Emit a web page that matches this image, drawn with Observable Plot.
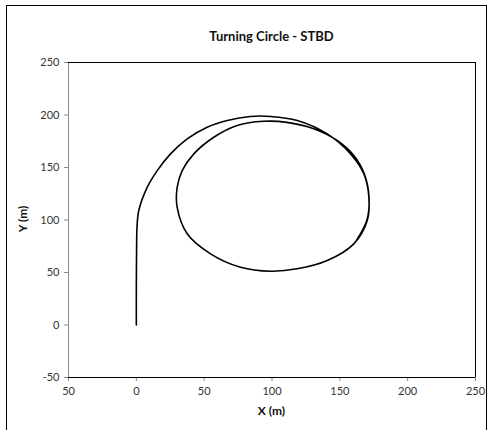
<!DOCTYPE html>
<html>
<head>
<meta charset="utf-8">
<script src="https://cdn.jsdelivr.net/npm/d3@7"></script>
<script src="https://cdn.jsdelivr.net/npm/@observablehq/plot@0.6"></script>
<style>
  html, body { margin: 0; padding: 0; background: #fff; }
  #wrap { position: relative; width: 491px; height: 430px; overflow: hidden; font-family: Lato, "Open Sans", sans-serif; }
  #border { position: absolute; left: 6px; top: 5px; width: 481px; height: 440px; border: 1px solid #000; box-sizing: border-box; }
  #title { position: absolute; left: 68px; width: 407px; top: 28px; text-align: center; font-size: 13px; font-weight: bold; color: #111; }
  #chart { position: absolute; left: 0; top: 50px; }
  #xlab { position: absolute; left: 68px; width: 407px; top: 403px; text-align: center; font-size: 12px; font-weight: bold; color: #111; }
  #ylab { position: absolute; left: 22px; top: 219px; transform: translate(-50%, -50%) rotate(-90deg); font-size: 12px; font-weight: bold; color: #111; white-space: nowrap; }
</style>
</head>
<body>
<div id="wrap">
  <div id="border"></div>
  <div id="title">Turning Circle - STBD</div>
  <div id="chart"></div>
  <div id="xlab">X (m)</div>
  <div id="ylab">Y (m)</div>
</div>
<script>
const xTicks = [-50, 0, 50, 100, 150, 200, 250];
const xTickLabels = ["50", "0", "50", "100", "150", "200", "250"];
const yTicks = [-50, 0, 50, 100, 150, 200, 250];
const yTickLabels = ["-50", "0", "50", "100", "150", "200", "250"];

// Trajectory (X, Y in metres)
const pathX = [0, 0, 0.2, 0.5, 1.8, 8, 15.4, 25.2, 37.5, 52.2, 67, 84, 98.9, 118.6, 140.7, 157.9, 167.7, 171.4, 170.2, 160.3, 140.7, 118.6, 98.9, 76.8, 54.7, 37.5, 30.1, 30.1, 33.8, 42.4, 57.1, 74.3, 93.9, 111, 130.8, 148, 160.3, 168, 171.5, 170, 162];
const pathY = [0, 35, 75, 93, 109, 131, 147, 163, 177.3, 188.4, 194.8, 198.6, 198.6, 194.8, 182, 163, 144, 121.7, 99.5, 77.3, 61.4, 53.5, 51.2, 55, 67.8, 86.9, 112, 131, 147, 163, 178.8, 190, 194, 193, 186.9, 175.7, 161.4, 144, 122, 100, 80];

const data = pathX.map((x, i) => ({x, y: pathY[i]}));

const chart = Plot.plot({
  width: 491,
  height: 380,
  marginLeft: 68,
  marginRight: 16,
  marginTop: 12,
  marginBottom: 53,
  style: { fontFamily: "Lato, 'Open Sans', sans-serif", fontSize: "11px", color: "#333", background: "transparent" },
  x: { domain: [-50, 250] },
  y: { domain: [-50, 250] },
  marks: [
    Plot.axisX({ ticks: xTicks, tickFormat: (d) => xTickLabels[xTicks.indexOf(d)], tickSize: 4, tickPadding: 6, stroke: "#888", fill: "#333", label: null }),
    Plot.axisY({ ticks: yTicks, tickFormat: (d) => yTickLabels[yTicks.indexOf(d)], tickSize: 4, tickPadding: 5, stroke: "#888", fill: "#333", label: null }),
    Plot.ruleX([-50], { stroke: "#888" }),
    Plot.ruleX([250], { stroke: "#000" }),
    Plot.ruleY([-50], { stroke: "#000" }),
    Plot.ruleY([250], { stroke: "#000" }),
    Plot.line(data, { x: "x", y: "y", stroke: "#000", strokeWidth: 1.6, curve: "catmull-rom" })
  ]
});
document.getElementById("chart").appendChild(chart);
</script>
</body>
</html>
